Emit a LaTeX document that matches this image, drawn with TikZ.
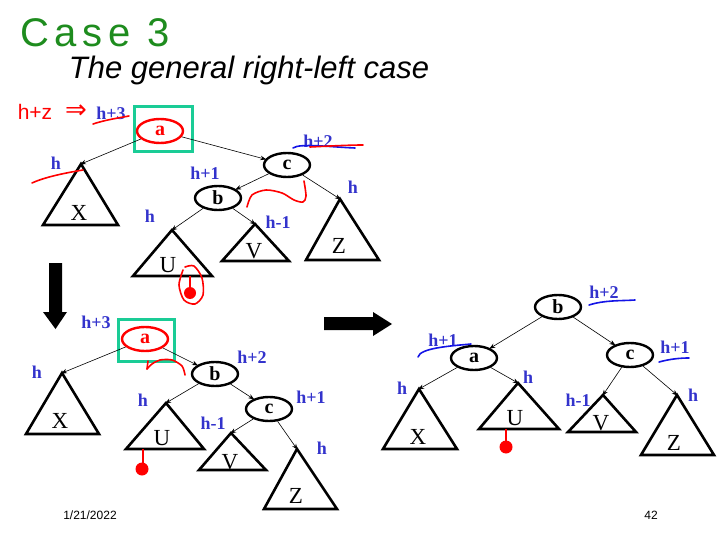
\documentclass[tikz,border=0pt]{standalone}
\usepackage{fontspec}
\setmainfont{Liberation Serif}
\newfontfamily\arialfont{Liberation Sans}
\newfontfamily\symfont{DejaVu Sans}
\usetikzlibrary{shapes.geometric,arrows.meta}
\definecolor{hblue}{RGB}{51,51,204}
\definecolor{boxgreen}{RGB}{26,204,150}
\definecolor{penred}{RGB}{255,0,0}
\definecolor{pengreen}{RGB}{30,140,30}
\definecolor{penblue}{RGB}{20,20,230}
\begin{document}
\begin{tikzpicture}[x=1pt,y=-1pt,
  treenode/.style={ellipse,draw,line width=2.4pt,minimum width=46pt,minimum height=24pt,inner sep=0pt,font=\bfseries\fontsize{20}{20}\selectfont},
  rootnode/.style={treenode,draw=penred,text=penred},
  hlabel/.style={text=hblue,font=\bfseries\fontsize{18}{18}\selectfont,inner sep=0pt},
  trilabel/.style={font=\fontsize{23}{23}\selectfont,inner sep=0pt},
  tri/.style={draw,line width=2.6pt,line join=miter},
  conn/.style={-{Stealth[length=6pt,width=4.5pt]},line width=0.6pt,shorten >=-1pt},
  greenbox/.style={draw=boxgreen,line width=3pt},
  redpen/.style={draw=penred,line width=1.6pt,line cap=round,line join=round},
  bluepen/.style={draw=penblue,line width=1.6pt,line cap=round,line join=round},
  bigarrow/.style={fill=black,draw=none}]
\useasboundingbox (0,0) rectangle (720,540);

% headings
\node[text=pengreen,font=\arialfont\fontsize{40}{40}\selectfont\addfontfeature{LetterSpace=14},inner sep=0pt] (case) at (95,33) {Case 3};
\node[font=\arialfont\itshape\fontsize{31}{31}\selectfont,inner sep=0pt] (title) at (249,70) {The general right-left case};

% ===== top tree =====
\draw[greenbox] (134,107) rectangle (192,152);
\node[rootnode] (a1) at (160,131) {a};
\node[treenode] (c1) at (287,165) {c};
\node[treenode] (b1) at (218,198) {b};
\coordinate (X1) at (81,164);
\coordinate (U1) at (172,230);
\coordinate (V1) at (255,224);
\coordinate (Z1) at (340,199);
\draw[tri] (X1) -- (43,225) -- (118,225) -- cycle;
\draw[tri] (U1) -- (133,276) -- (212,276) -- cycle;
\draw[tri] (V1) -- (222,261) -- (289,261) -- cycle;
\draw[tri] (Z1) -- (306,260) -- (379,260) -- cycle;
\node[trilabel] (lX1) at (79,213) {X};
\node[trilabel] (lU1) at (168,265) {U};
\node[trilabel] (lV1) at (254,251) {V};
\node[trilabel] (lZ1) at (339,246) {Z};
\draw[conn] (a1) -- (X1);
\draw[conn] (a1) -- (c1);
\draw[conn] (c1) -- (b1);
\draw[conn] (c1) -- (Z1);
\draw[conn] (b1) -- (U1);
\draw[conn] (b1) -- (V1);
\node[hlabel] (h1a) at (111,113) {h+3};
\node[hlabel] (h1b) at (56,163) {h};
\node[hlabel] (h1c) at (205,173) {h+1};
\node[hlabel] (h1d) at (150,216) {h};
\node[hlabel] (h1e) at (278,222) {h-1};
\node[hlabel] (h1f) at (353,187) {h};
\node[hlabel] (h1g) at (318,141) {h+2};

% red / blue pen marks, top
\node[text=penred,font=\arialfont\fontsize{21}{21}\selectfont,inner sep=0pt] (hz) at (35,112) {h+z};
\node[text=penred,font=\symfont\fontsize{26}{26}\selectfont,inner sep=0pt] (imp) at (76,112) {⇒};
\draw[redpen] (93,124) .. controls (105,120) and (118,118) .. (129,116);
\draw[redpen] (32,183) .. controls (45,177) and (65,173) .. (83,170);
\draw[bluepen] (293,148) .. controls (300,143) and (330,147) .. (355,148);
\draw[redpen] (310,147) .. controls (330,146) and (350,145) .. (363,145);
\draw[redpen] plot[smooth] coordinates {(247,207) (252,195) (266,190) (282,193) (294,200) (303,202) (306,196) (304,181)};
\draw[redpen] plot[smooth] coordinates {(183,270) (179,285) (184,300) (195,304) (203,295) (202,278) (194,266) (185,267)};
\draw[draw=penred,line width=1.6pt] (190,276) -- (190,288);
\fill[penred] (190,293) circle (6);

% down arrow
\fill[bigarrow] (49,263) -- (62,263) -- (62,312) -- (67,312) -- (55.5,329) -- (43,312) -- (49,312) -- cycle;

% ===== bottom-left tree =====
\draw[greenbox] (118,319) rectangle (174,361);
\node[rootnode] (a2) at (145,339) {a};
\node[treenode] (b2) at (215,374) {b};
\node[treenode] (c2) at (269,409) {c};
\coordinate (X2) at (62,373);
\coordinate (U2) at (166,403);
\coordinate (V2) at (231,433);
\coordinate (Z2) at (297,449);
\draw[tri] (X2) -- (26,434) -- (99,434) -- cycle;
\draw[tri] (U2) -- (126,449) -- (204,449) -- cycle;
\draw[tri] (V2) -- (199,470) -- (266,470) -- cycle;
\draw[tri] (Z2) -- (264,509) -- (337,509) -- cycle;
\node[trilabel] (lX2) at (60,421) {X};
\node[trilabel] (lU2) at (162,438) {U};
\node[trilabel] (lV2) at (230,462) {V};
\node[trilabel] (lZ2) at (296,496) {Z};
\draw[conn] (a2) -- (X2);
\draw[conn] (a2) -- (b2);
\draw[conn] (b2) -- (U2);
\draw[conn] (b2) -- (c2);
\draw[conn] (c2) -- (V2);
\draw[conn] (c2) -- (Z2);
\node[hlabel] (h2a) at (96,322) {h+3};
\node[hlabel] (h2b) at (37,372) {h};
\node[hlabel] (h2c) at (252,357) {h+2};
\node[hlabel] (h2d) at (143,400) {h};
\node[hlabel] (h2e) at (311,397) {h+1};
\node[hlabel] (h2f) at (213,423) {h-1};
\node[hlabel] (h2g) at (322,448) {h};
\draw[redpen] plot[smooth] coordinates {(185,375) (182,366) (172,360) (160,360) (152,364) (147,369)};
\draw[redpen] (147,369) -- (148,361);
\draw[draw=penred,line width=1.6pt] (143,449) -- (143,464);
\fill[penred] (142,469) circle (6.5);

% right arrow
\fill[bigarrow] (324,317) -- (373,317) -- (373,312) -- (392,324) -- (373,336) -- (373,330) -- (324,330) -- cycle;

% ===== right tree =====
\node[treenode] (b3) at (558,307) {b};
\node[treenode] (a3) at (474,358) {a};
\node[treenode] (c3) at (630,355) {c};
\coordinate (X3) at (419,389);
\coordinate (U3) at (518,383);
\coordinate (V3) at (603,395);
\coordinate (Z3) at (677,395);
\draw[tri] (X3) -- (383,449) -- (457,449) -- cycle;
\draw[tri] (U3) -- (479,429) -- (559,429) -- cycle;
\draw[tri] (V3) -- (568,432) -- (636,432) -- cycle;
\draw[tri] (Z3) -- (641,455) -- (714,455) -- cycle;
\node[trilabel] (lX3) at (418,437) {X};
\node[trilabel] (lU3) at (515,418) {U};
\node[trilabel] (lV3) at (601,423) {V};
\node[trilabel] (lZ3) at (674,443) {Z};
\draw[conn] (b3) -- (a3);
\draw[conn] (b3) -- (c3);
\draw[conn] (a3) -- (X3);
\draw[conn] (a3) -- (U3);
\draw[conn] (c3) -- (V3);
\draw[conn] (c3) -- (Z3);
\node[hlabel] (h3a) at (604,292) {h+2};
\node[hlabel] (h3b) at (443,340) {h+1};
\node[hlabel] (h3c) at (675,347) {h+1};
\node[hlabel] (h3d) at (402,388) {h};
\node[hlabel] (h3e) at (528,377) {h};
\node[hlabel] (h3f) at (578,400) {h-1};
\node[hlabel] (h3g) at (693,395) {h};
\draw[bluepen] (589,305) .. controls (605,300) and (620,301) .. (635,300);
\draw[bluepen] (418,357) .. controls (420,348) and (450,346) .. (471,344);
\draw[bluepen] (659,362) .. controls (670,359) and (680,358) .. (689,358);
\draw[draw=penred,line width=1.6pt] (506,429) -- (506,441);
\fill[penred] (506,447) circle (6.5);

% footer
\node[font=\arialfont\fontsize{12}{12}\selectfont,inner sep=0pt] (date) at (90,515) {1/21/2022};
\node[font=\arialfont\fontsize{12}{12}\selectfont,inner sep=0pt] (page) at (651,515) {42};
\end{tikzpicture}
\end{document}
